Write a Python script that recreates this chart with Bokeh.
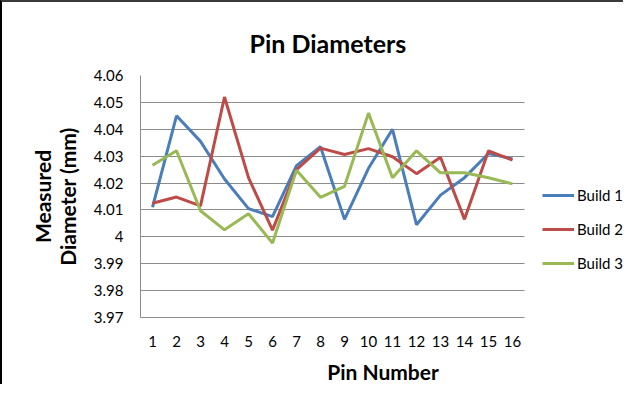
from bokeh.plotting import figure
from bokeh.models import Legend, LegendItem, FixedTicker, Range1d, BoxAnnotation
from bokeh.embed import file_html
from bokeh.resources import INLINE

pins = list(range(1, 17))
build1 = [4.011, 4.045, 4.0355, 4.0215, 4.0105, 4.0075, 4.0265, 4.0335, 4.0065, 4.0255, 4.040, 4.0045, 4.0155, 4.022, 4.031, 4.029]
build2 = [4.0125, 4.0148, 4.0115, 4.052, 4.022, 4.0025, 4.025, 4.033, 4.0306, 4.0328, 4.0298, 4.0235, 4.0296, 4.0065, 4.032, 4.0285]
build3 = [4.0266, 4.032, 4.0097, 4.0026, 4.0086, 3.9977, 4.0248, 4.0147, 4.0188, 4.046, 4.022, 4.032, 4.0238, 4.0238, 4.022, 4.0197]
y_ticks = [3.97, 3.98, 3.99, 4.00, 4.01, 4.02, 4.03, 4.04, 4.05, 4.06]
y_labels = ["3.97", "3.98", "3.99", "4", "4.01", "4.02", "4.03", "4.04", "4.05", "4.06"]
series_names = ["Build 1", "Build 2", "Build 3"]
colors = ["#4A7EBB", "#BE4B48", "#98B954"]

FONT = "Lato"

W, H = 623, 384
LEFT, TOP, BOTTOM = 138, 73, 69
PLOT_W = 384  # pixel width of the 16-category plot area
frame_w = W - LEFT
x_start = pins[0] - 0.5
x_end_cat = pins[-1] + 0.5
x_end = x_start + (x_end_cat - x_start) * frame_w / PLOT_W

p = figure(width=W, height=H, output_backend="svg", toolbar_location=None,
           x_range=Range1d(x_start, x_end), y_range=Range1d(y_ticks[0], y_ticks[-1]),
           min_border_left=LEFT, min_border_right=0, min_border_top=TOP, min_border_bottom=BOTTOM,
           title="Pin Diameters")
p.styles = {"border-top": "2px solid #3a3a3a", "border-left": "2px solid #000000"}

p.title.align = "left"
p.title.offset = 109
p.title.text_font = FONT
p.title.text_font_size = "25px"
p.title.text_font_style = "bold"
p.title.text_color = "#000000"
p.title.standoff = 35

p.outline_line_color = None
p.xgrid.grid_line_color = None
p.ygrid.grid_line_color = "#8c8c8c"
p.ygrid.grid_line_width = 1

p.yaxis.ticker = FixedTicker(ticks=y_ticks)
p.yaxis.major_label_overrides = {t: l for t, l in zip(y_ticks, y_labels)}
p.xaxis.ticker = FixedTicker(ticks=pins)
p.xaxis.bounds = (x_start, x_end_cat)

for ax in (p.xaxis[0], p.yaxis[0]):
    ax.axis_line_color = "#8c8c8c"
    ax.major_tick_line_color = None
    ax.minor_tick_line_color = None
    ax.major_tick_out = 0
    ax.major_tick_in = 0
    ax.minor_tick_out = 0
    ax.major_label_text_font = FONT
    ax.major_label_text_font_size = "15px"
    ax.major_label_text_color = "#000000"
    ax.axis_label_text_font = FONT
    ax.axis_label_text_font_size = "21px"
    ax.axis_label_text_font_style = "bold"
    ax.axis_label_text_color = "#000000"
    ax.axis_label_text_line_height = 1.0

p.yaxis.major_label_standoff = 17
p.xaxis.major_label_standoff = 18
p.yaxis.axis_label = "Measured\nDiameter (mm)"
p.xaxis.axis_label = "Pin Number"
p.yaxis.axis_label_standoff = 11
p.xaxis.axis_label_standoff = 9

# blank out the gridlines to the right of the category area (legend area)
p.add_layout(BoxAnnotation(left=x_end_cat, fill_color="white", fill_alpha=1.0,
                           line_alpha=0, level="underlay"))

items = []
for name, ys, c in zip(series_names, [build1, build2, build3], colors):
    r = p.line(pins, ys, line_color=c, line_width=3)
    items.append(LegendItem(label=name, renderers=[r]))

legend = Legend(items=items, location=(402, 44), border_line_color=None,
                background_fill_alpha=0, label_text_font=FONT, label_text_font_size="15px",
                label_text_color="#000000",
                glyph_width=32, label_standoff=3, spacing=14, padding=0, margin=0)
p.add_layout(legend, "center")

open("out.html", "w").write(file_html(p, INLINE))
